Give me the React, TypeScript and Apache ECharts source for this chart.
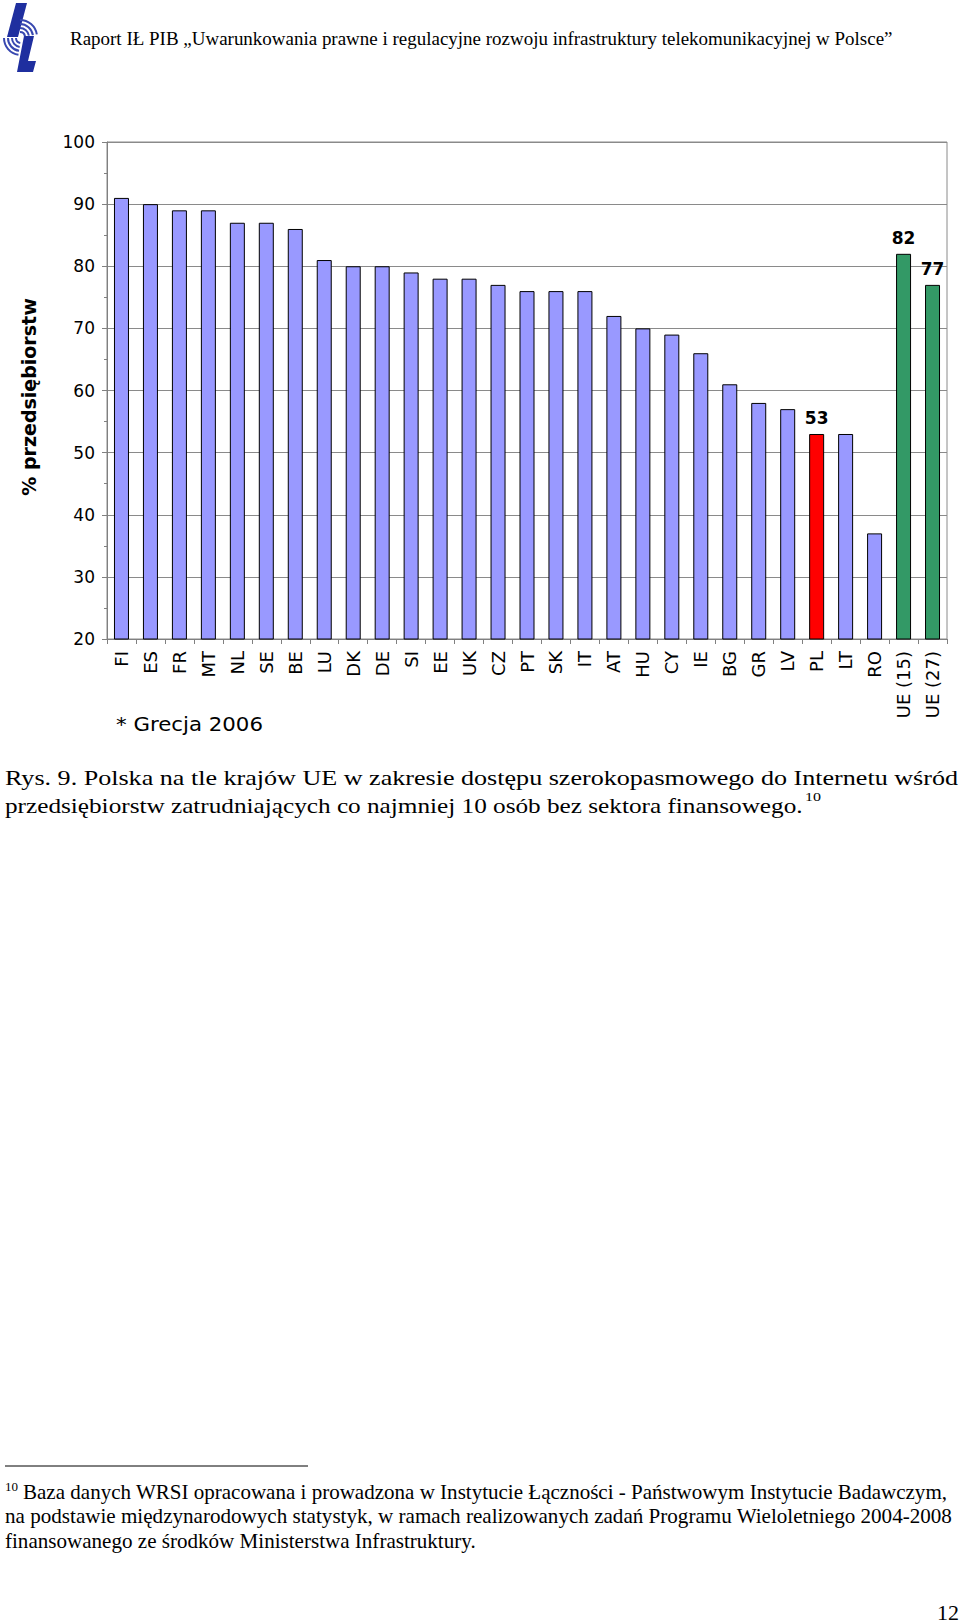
import React, { useEffect, useRef } from "react";
import * as echarts from "echarts";

const categories = ["FI","ES","FR","MT","NL","SE","BE","LU","DK","DE","SI","EE","UK","CZ","PT","SK","IT","AT","HU","CY","IE","BG","GR","LV","PL","LT","RO","UE (15)","UE (27)"];
const values = [91,90,89,89,87,87,86,81,80,80,79,78,78,77,76,76,76,72,70,69,66,61,58,57,53,53,37,82,77];
const highlightRed = ["PL"];
const highlightGreen = ["UE (15)", "UE (27)"];
const labelled = ["PL", "UE (15)", "UE (27)"];
const yTicks = { min: 20, max: 100, interval: 10 };

const headerText = "Raport IŁ PIB „Uwarunkowania prawne i regulacyjne rozwoju infrastruktury telekomunikacyjnej w Polsce”";
const yName = "% przedsiębiorstw";
const captionLines = [
  "Rys. 9. Polska na tle krajów UE w zakresie dostępu szerokopasmowego do Internetu wśród",
  "przedsiębiorstw zatrudniających co najmniej 10 osób bez sektora finansowego.",
];
const footLines = [
  "Baza danych WRSI opracowana i prowadzona w Instytucie Łączności - Państwowym Instytucie Badawczym,",
  "na podstawie międzynarodowych statystyk, w ramach realizowanych zadań Programu Wieloletniego 2004-2008",
  "finansowanego ze środków Ministerstwa Infrastruktury.",
];
const noteText = "* Grecja 2006";
const footRef = "10";
const pageNo = "12";

const BLUE = "#9999ff";
const RED = "#ff0000";
const GREEN = "#339966";

export default function App() {
  const ref = useRef<HTMLDivElement>(null);
  useEffect(() => {
    if (!ref.current) return;
    const chart = echarts.init(ref.current, null, { renderer: "svg" });
    const cv = document.createElement("canvas");
    const ctx = cv.getContext("2d")!;
    const measure = (t: string, font: string) => {
      ctx.font = font;
      return ctx.measureText(t).width || 1;
    };
    const fit = (t: string, x0: number, x1: number, yc: number, size: number, family: string, weight = "normal") => {
      const w = measure(t, `${weight} ${size}px ${family}`);
      return {
        type: "text",
        x: x0,
        y: yc,
        scaleX: (x1 - x0) / w,
        style: {
          text: t,
          fontSize: size,
          fontFamily: family,
          fontWeight: weight,
          fill: "#000",
          textAlign: "left",
          textVerticalAlign: "middle",
        },
      };
    };
    const serif = "'Liberation Serif'";
    const LOGO = "#1f2f9f";

    const data = categories.map((c, i) => {
      const color = highlightRed.includes(c) ? RED : highlightGreen.includes(c) ? GREEN : BLUE;
      const d: any = { value: values[i], itemStyle: { color, borderColor: "#000", borderWidth: 1 } };
      if (labelled.includes(c)) {
        d.label = {
          show: true,
          position: "top",
          distance: 7,
          fontWeight: "bold",
          fontSize: 17,
          fontFamily: "DejaVu Sans",
          color: "#000",
        };
      }
      return d;
    });

    const graphics: any[] = [
      // logo
      { type: "polygon", shape: { points: [[16, 3], [27, 3], [18, 37], [7, 37]] }, style: { fill: LOGO } },
      { type: "polygon", shape: { points: [[24, 36], [34, 36], [28, 61], [36, 61], [33, 72], [17, 72]] }, style: { fill: LOGO } },
      ...[5, 9, 13, 17].map((r) => ({
        type: "arc",
        shape: { cx: 20, cy: 37, r, startAngle: -Math.PI / 2, endAngle: -0.15 },
        style: { stroke: "#3848b0", lineWidth: 2, fill: null },
      })),
      ...[5, 9, 13, 17].map((r) => ({
        type: "arc",
        shape: { cx: 21, cy: 38, r, startAngle: Math.PI / 2 + 0.15, endAngle: Math.PI },
        style: { stroke: "#3848b0", lineWidth: 2, fill: null },
      })),
      fit(headerText, 70, 893, 38, 19, serif),
      {
        type: "text",
        x: 29,
        y: 397,
        rotation: Math.PI / 2,
        style: {
          text: yName,
          fontSize: 19,
          fontWeight: "bold",
          fontFamily: "DejaVu Sans",
          fill: "#000",
          textAlign: "center",
          textVerticalAlign: "middle",
        },
      },
      fit(noteText, 116, 263, 724, 20, "'DejaVu Sans'"),
      fit(captionLines[0], 5, 958, 777, 22, serif),
      fit(captionLines[1], 5, 803, 806, 22, serif),
      fit(footRef, 805, 821, 797, 13, serif),
      { type: "line", shape: { x1: 5, y1: 1466, x2: 308, y2: 1466 }, style: { stroke: "#000", lineWidth: 1 } },
      fit(footRef, 5, 18, 1486, 13, serif),
      fit(footLines[0], 23, 948, 1492, 20, serif),
      fit(footLines[1], 5, 953, 1516, 20, serif),
      fit(footLines[2], 5, 476, 1541, 20, serif),
      fit(pageNo, 937, 959, 1612, 22, serif),
    ];

    chart.setOption({
      animation: false,
      backgroundColor: "#fff",
      grid: {
        left: 107,
        top: 142,
        width: 840,
        height: 497,
        show: true,
        borderColor: "#8a8a8a",
        borderWidth: 1,
      },
      xAxis: {
        type: "category",
        data: categories,
        axisLine: { lineStyle: { color: "#808080", width: 1 } },
        axisTick: { show: true, length: 5, lineStyle: { color: "#808080" } },
        axisLabel: {
          rotate: 90,
          fontSize: 18,
          fontFamily: "DejaVu Sans",
          color: "#000",
          margin: 12,
          interval: 0,
        },
      },
      yAxis: {
        type: "value",
        min: yTicks.min,
        max: yTicks.max,
        interval: yTicks.interval,
        axisLine: { show: true, lineStyle: { color: "#808080", width: 1 } },
        axisTick: { show: true, length: 5, lineStyle: { color: "#808080" } },
        minorTick: { show: true, splitNumber: 2, length: 3, lineStyle: { color: "#808080" } },
        splitLine: { show: true, lineStyle: { color: "#8a8a8a", width: 1.2 } },
        axisLabel: { fontSize: 17, fontFamily: "DejaVu Sans", color: "#000", margin: 12 },
      },
      series: [
        {
          type: "bar",
          data,
          barWidth: 15,
        },
      ],
      graphic: graphics,
    });
    return () => chart.dispose();
  }, []);
  return (
    <div
      ref={ref}
      style={{ position: "absolute", left: 0, top: 0, width: 960, height: 1624, background: "#fff" }}
    />
  );
}
